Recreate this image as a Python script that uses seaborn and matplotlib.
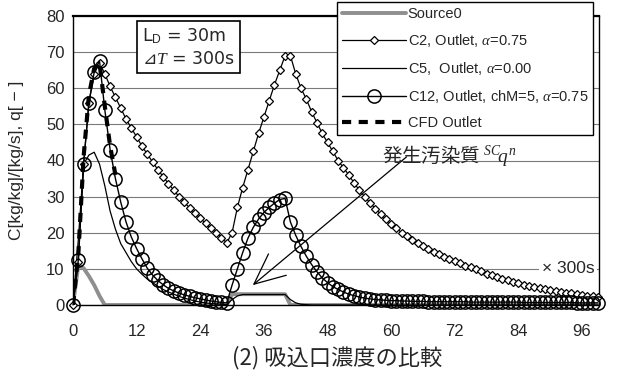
import matplotlib
matplotlib.use('Agg')
import matplotlib.pyplot as plt
import seaborn as sns

sns.set_style('white')
plt.rcParams['font.family'] = ['Liberation Sans', 'DejaVu Sans', 'Noto Sans CJK JP']
plt.rcParams['mathtext.fontset'] = 'custom'
plt.rcParams['mathtext.rm'] = 'Liberation Sans'
plt.rcParams['mathtext.it'] = 'Liberation Serif:italic'

# time axis in units of 300 s
t = list(range(100))

source0 = [0, 11, 10.2, 8, 5.5, 2.5, 0, 0, 0, 0,
           0, 0, 0, 0, 0, 0, 0, 0, 0, 0,
           0, 0, 0, 0, 0, 0, 0, 0, 0, 0,
           3, 3, 3, 3, 3, 3, 3, 3, 3, 3,
           3, 0, 0, 0, 0, 0, 0, 0, 0, 0,
           0, 0, 0, 0, 0, 0, 0, 0, 0, 0,
           0, 0, 0, 0, 0, 0, 0, 0, 0, 0,
           0, 0, 0, 0, 0, 0, 0, 0, 0, 0,
           0, 0, 0, 0, 0, 0, 0, 0, 0, 0,
           0, 0, 0, 0, 0, 0, 0, 0, 0, 0]

c2 = [0, 12, 39, 56, 64, 67, 64, 60.5, 57.5, 54.5,
      51.5, 49, 46.5, 44, 41.8, 39.6, 37.5, 35.5, 33.6, 31.8,
      30, 28.4, 26.9, 25.4, 24, 22.6, 21.3, 20, 18.6, 17.2,
      20, 27, 32.5, 37.5, 42.5, 47.5, 52, 56.5, 61, 65,
      69, 69, 64, 60, 57, 53.5, 50.5, 47.5, 45, 42.5,
      40, 38, 36, 33.8, 31.8, 30, 28.3, 26.7, 25.2, 23.8,
      22.4, 21.2, 20, 19, 18.1, 17.2, 16.4, 15.6, 14.8, 14,
      13.3, 12.7, 12.1, 11.5, 10.9, 10.4, 9.9, 9.3, 8.7, 8.2,
      7.7, 7.2, 6.8, 6.4, 6, 5.6, 5.3, 5, 4.7, 4.4,
      4.1, 3.9, 3.6, 3.4, 3.2, 3, 2.8, 2.6, 2.4, 2.2]

c5 = [0, 18, 39, 41.5, 42.3, 39, 33, 26, 21, 17,
      14.5, 12, 10, 8.5, 7.2, 6.2, 5.2, 4.3, 3.6, 3,
      2.4, 1.9, 1.5, 1.1, 0.8, 0.6, 0.4, 0.3, 0.2, 0.1,
      1.5, 2.5, 2.9, 2.9, 2.9, 2.9, 2.9, 2.9, 2.9, 2.9,
      2.9, 1.5, 0.6, 0.2, 0.1, 0, 0, 0, 0, 0,
      0, 0, 0, 0, 0, 0, 0, 0, 0, 0,
      0, 0, 0, 0, 0, 0, 0, 0, 0, 0,
      0, 0, 0, 0, 0, 0, 0, 0, 0, 0,
      0, 0, 0, 0, 0, 0, 0, 0, 0, 0,
      0, 0, 0, 0, 0, 0, 0, 0, 0, 0]

c12 = [0, 12.4, 39, 56, 64.5, 67.6, 54, 43, 35, 28.5,
       23, 18.8, 15.6, 12.8, 10.2, 8.3, 6.8, 5.6, 4.6, 3.9,
       3.3, 2.8, 2.4, 2, 1.7, 1.4, 1.1, 0.9, 0.7, 0.6,
       5.5, 10, 14.5, 18.5, 21.5, 23.8, 25.6, 27, 28.2, 29.2,
       29.5, 23, 19.3, 16.2, 13.5, 11.2, 9.2, 7.5, 6.2, 5.1,
       4.3, 3.6, 3, 2.6, 2.2, 1.9, 1.7, 1.5, 1.4, 1.3,
       1.2, 1.2, 1.1, 1.1, 1, 1, 1, 0.9, 0.9, 0.9,
       0.9, 0.9, 0.9, 0.9, 0.9, 0.8, 0.8, 0.8, 0.8, 0.8,
       0.8, 0.8, 0.8, 0.8, 0.8, 0.7, 0.7, 0.7, 0.7, 0.7,
       0.7, 0.7, 0.7, 0.7, 0.7, 0.6, 0.6, 0.6, 0.6, 0.6]

cfd_t = [0, 1, 2, 3, 4, 5, 6, 7, 8]
cfd = [0, 14, 41, 58, 65.5, 67, 55, 44, 36]

xticks = [0, 12, 24, 36, 48, 60, 72, 84, 96]
yticks = [0, 10, 20, 30, 40, 50, 60, 70, 80]

fig = plt.figure(figsize=(6.2, 3.72), dpi=100)
ax = fig.add_axes([73/620, 1-305/372, (599-73)/620, (305-16)/372])

sns.lineplot(x=t, y=source0, ax=ax, color='#8f8f8f', lw=2.8, label='Source0', zorder=2)
sns.lineplot(x=t, y=c2, ax=ax, color='black', lw=0.9, marker='D', ms=3.8, mfc='white',
             mec='black', mew=0.9, label='C2, Outlet, $\\alpha$=0.75', zorder=4, clip_on=False)
sns.lineplot(x=t, y=c5, ax=ax, color='black', lw=0.9, label='C5,  Outlet, $\\alpha$=0.00', zorder=3)
sns.lineplot(x=t, y=c12, ax=ax, color='black', lw=1, marker='o', ms=9.5, mfc='none',
             mec='black', mew=1.1, label='C12, Outlet, chM=5, $\\alpha$=0.75', zorder=5, clip_on=False)
sns.lineplot(x=cfd_t, y=cfd, ax=ax, color='black', lw=3, linestyle=(0, (2.2, 1.8)),
             label='CFD Outlet', zorder=6)

ax.set_xlim(0, 99.2)
ax.set_ylim(0, 80)
ax.set_xticks(xticks)
ax.set_yticks(yticks)
ax.yaxis.grid(True, color='#7a7a7a', lw=0.8)
ax.set_axisbelow(True)
ax.tick_params(axis='x', direction='in', length=4, width=0.8, pad=14, labelsize=12)
ax.tick_params(axis='y', length=0, pad=6, labelsize=12)
for s in ax.spines.values():
    s.set_color('black')
    s.set_linewidth(1)
ax.spines['top'].set_linewidth(1.6)

ax.set_xlabel('')
ax.set_ylabel('C[kg/kg]/[kg/s], q[ − ]', fontsize=12.5)
ax.yaxis.set_label_coords(-0.093, 0.5)

ax.text((142-73)/526, (305-47)/289, 'L$_{\\mathrm{D}}$ = 30m\n⊿$T$ = 300s', transform=ax.transAxes,
        ha='left', va='center', fontsize=12.5, linespacing=1.3, zorder=10,
        family=['DejaVu Sans'],
        bbox=dict(boxstyle='square,pad=0.3', fc='white', ec='black', lw=1.2))

ax.annotate('', xy=(33.9, 5.5), xytext=(62.9, 41),
            arrowprops=dict(arrowstyle='->,head_length=2.2,head_width=1.0', color='black',
                            lw=0.9, shrinkA=0, shrinkB=0), zorder=7)
ax.text(58.2, 41.5, '発生汚染質 ${}^{SC}\\!q^{n}$', ha='left', va='center', fontsize=14,
        family=['Noto Sans CJK JP'], zorder=8)

ax.text(98.3, 10.2, '× 300s', ha='right', va='center', fontsize=12.5, zorder=9, clip_on=False,
        bbox=dict(boxstyle='square,pad=0.15', fc='white', ec='none'))

fig.text(337/620, 1-358/372, '(2) 吸込口濃度の比較', ha='center', va='center', fontsize=16,
         family=['Noto Sans CJK JP'])

leg = ax.legend(loc='upper left', bbox_to_anchor=(337/620, 1-2/372), bbox_transform=fig.transFigure,
                frameon=True, fancybox=False, edgecolor='black', framealpha=1, fontsize=10.5,
                handlelength=4.4, labelspacing=0.75, borderpad=0.35, handletextpad=0.1,
                borderaxespad=0)
leg.get_frame().set_linewidth(1.0)
leg.set_zorder(20)

fig.savefig('out.png', dpi=100)
